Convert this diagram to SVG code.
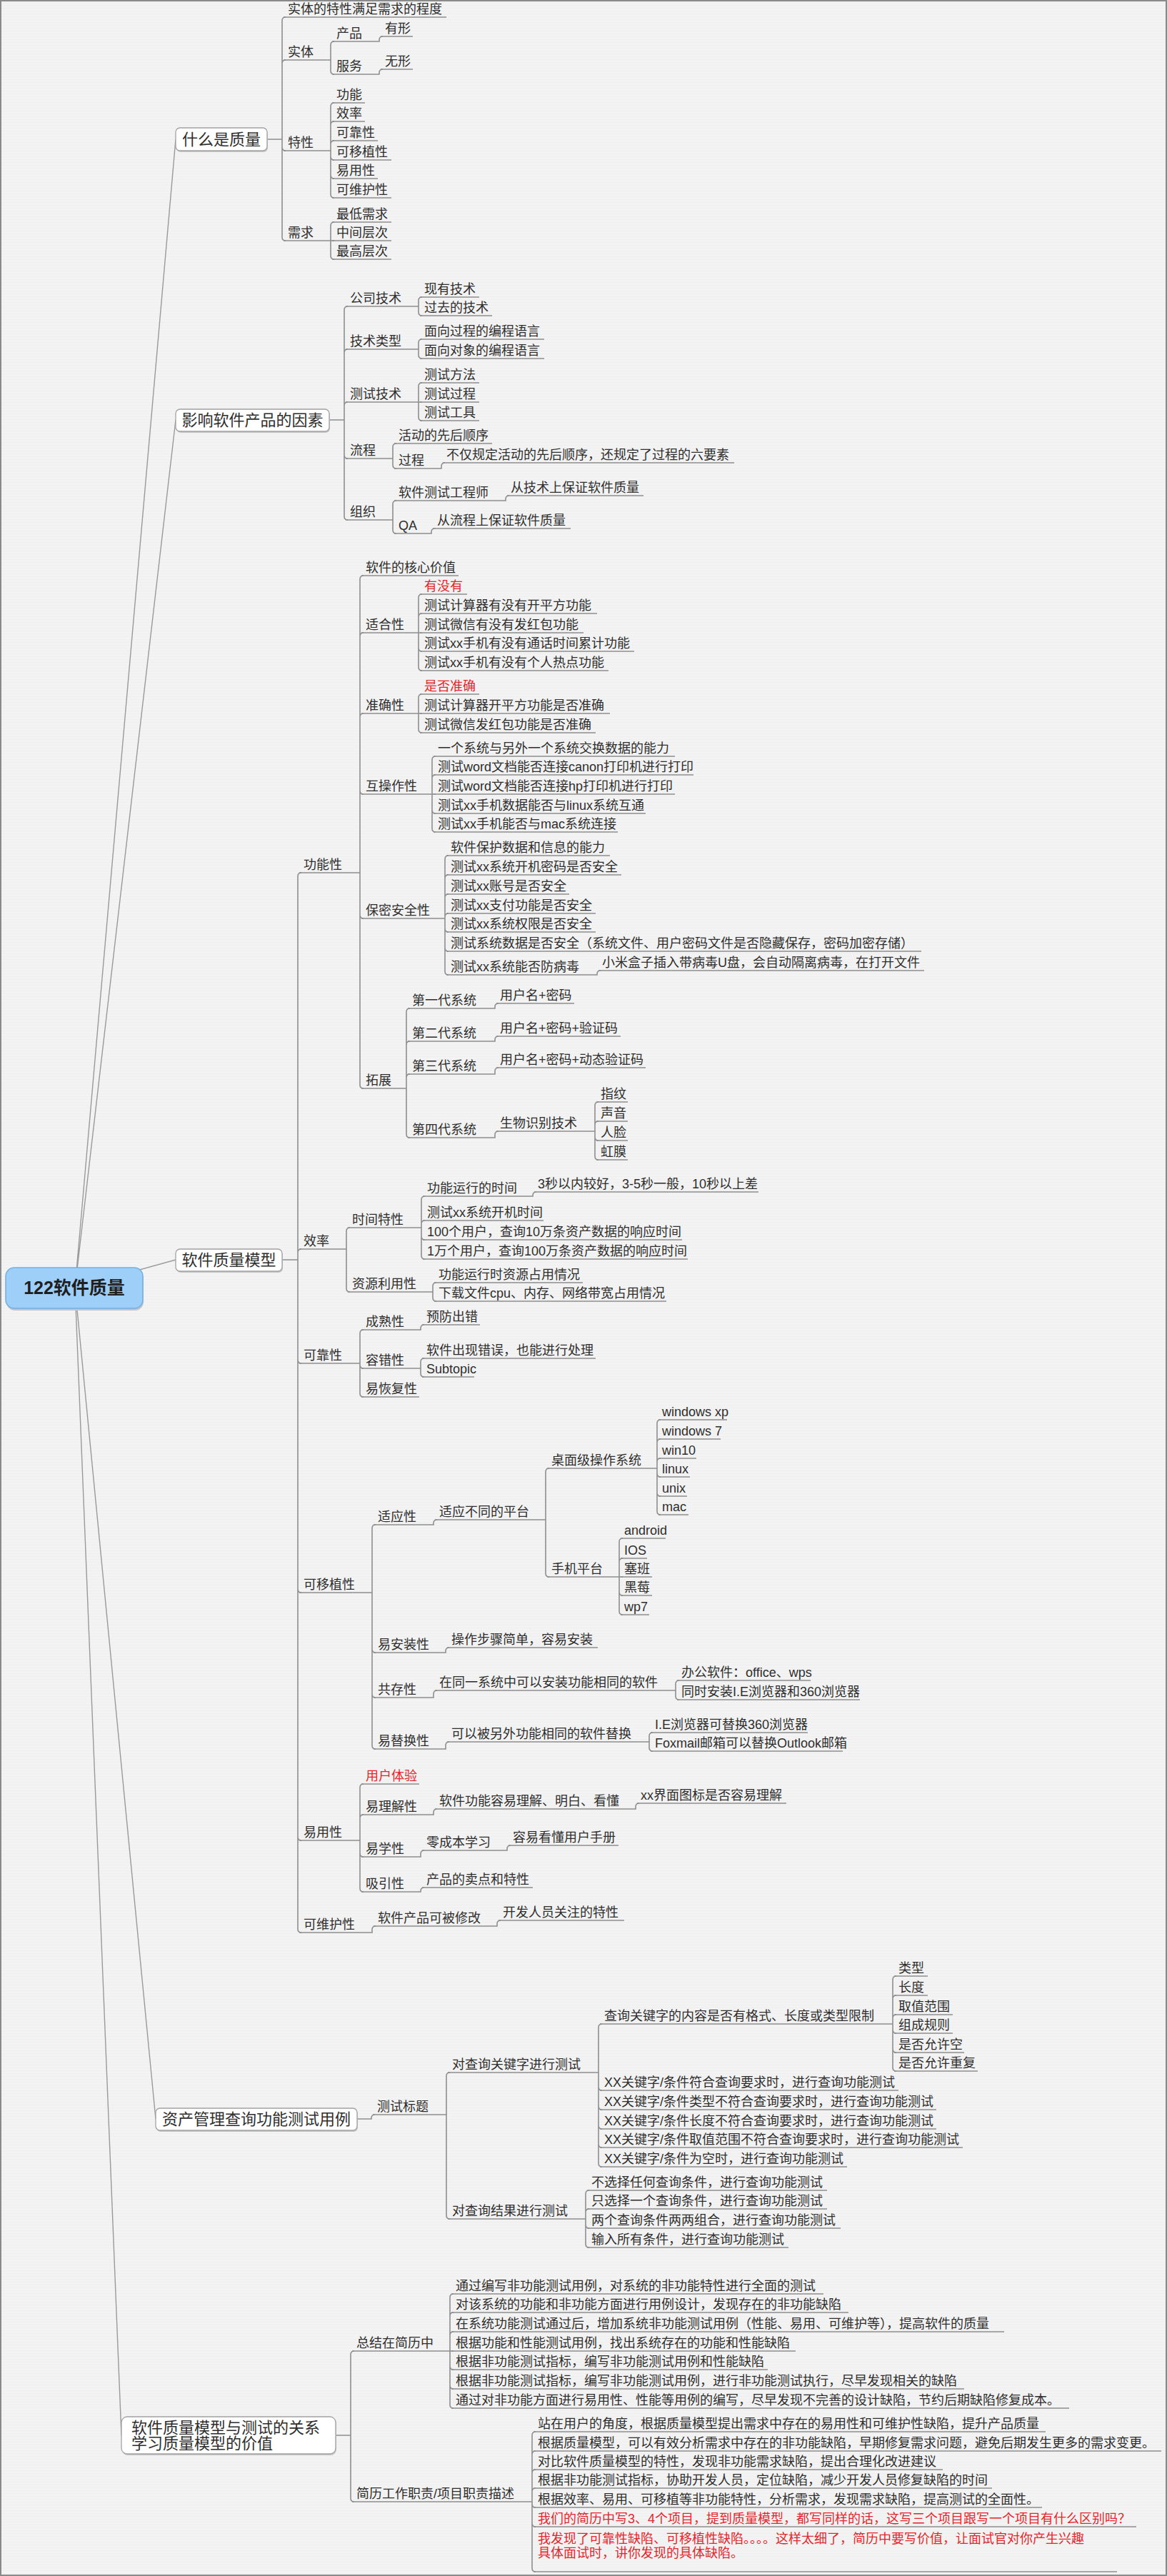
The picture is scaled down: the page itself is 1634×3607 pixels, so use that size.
<svg xmlns="http://www.w3.org/2000/svg" width="1634" height="3607" viewBox="0 0 1634 3607">
<defs>
<style>
text{font-family:"Liberation Sans","Noto Sans CJK SC",sans-serif;font-size:18px;fill:#2e2e2e}
.red{fill:#e4262c}
.l1{font-size:22px}
.root{font-size:25px;font-weight:bold;fill:#1f1f1f}
g.n path{stroke:#8e8e8e;stroke-width:1.6;fill:none}
#connectors path{stroke:#8e8e8e;stroke-width:1.6;fill:none}
#connectors .rl{stroke:#9a9a9a;stroke-width:1.4}
.box{fill:#fff;stroke:#a3a3a3;stroke-width:1.3}
.shadow{fill:#c6c6c6}
</style>
<pattern id="bgp" width="8" height="4" patternUnits="userSpaceOnUse">
<rect width="8" height="4" fill="#f3f3f3"/>
<rect y="3" width="8" height="1" fill="#efefef"/>
</pattern>
</defs>
<rect width="1634" height="3607" fill="url(#bgp)"/>
<rect x="1" y="1" width="1632" height="3605" fill="none" stroke="#8a8a8a" stroke-width="2"/>

<g id="connectors">
<path class="rl" d="M105,1803L246,195M105,1803L246,588M105,1803L246,1764M105,1803L218,2967M105,1803L170,3410"/>
<path d="M374,195H395M395,195V29Q395,24 400,24M395,195V89Q395,84 400,84M395,195V206Q395,211 400,211M395,195V332Q395,337 400,337"/>
<path d="M461,84H463M463,84V63Q463,58 468,58M463,84V99Q463,104 468,104"/>
<path d="M529,58H531V56Q531,51 536,51"/>
<path d="M529,104H531V102Q531,97 536,97"/>
<path d="M461,211H463M463,211V149Q463,144 468,144M463,211V175Q463,170 468,170M463,211V202Q463,197 468,197M463,211V219Q463,224 468,224M463,211V245Q463,250 468,250M463,211V272Q463,277 468,277"/>
<path d="M461,337H468M463,337V316Q463,311 468,311M463,337V358Q463,363 468,363"/>
<path d="M461,588H482M482,588V434Q482,429 487,429M482,588V494Q482,489 487,489M482,588V568Q482,563 487,563M482,588V637Q482,642 487,642M482,588V723Q482,728 487,728"/>
<path d="M584,429H586M586,429V421Q586,416 591,416M586,429V437Q586,442 591,442"/>
<path d="M584,489H586M586,489V480Q586,475 591,475M586,489V497Q586,502 591,502"/>
<path d="M584,563H591M586,563V541Q586,536 591,536M586,563V584Q586,589 591,589"/>
<path d="M548,642H550M550,642V626Q550,621 555,621M550,642V651Q550,656 555,656"/>
<path d="M616,656H618V653Q618,648 623,648"/>
<path d="M548,728H550M550,728V706Q550,701 555,701M550,728V742Q550,747 555,747"/>
<path d="M706,701H708V699Q708,694 713,694"/>
<path d="M602,747H604V745Q604,740 609,740"/>
<path d="M395,1764H417M417,1764V1227Q417,1222 422,1222M417,1764V1754Q417,1749 422,1749M417,1764V1904Q417,1909 422,1909M417,1764V2225Q417,2230 422,2230M417,1764V2572Q417,2577 422,2577M417,1764V2701Q417,2706 422,2706"/>
<path d="M502,1222H504M504,1222V811Q504,806 509,806M504,1222V891Q504,886 509,886M504,1222V1004Q504,999 509,999M504,1222V1107Q504,1112 509,1112M504,1222V1281Q504,1286 509,1286M504,1222V1519Q504,1524 509,1524"/>
<path d="M584,886H591M586,886V837Q586,832 591,832M586,886V864Q586,859 591,859M586,886V907Q586,912 591,912M586,886V934Q586,939 591,939"/>
<path d="M584,999H591M586,999V977Q586,972 591,972M586,999V1021Q586,1026 591,1026"/>
<path d="M602,1112H610M605,1112V1064Q605,1059 610,1059M605,1112V1090Q605,1085 610,1085M605,1112V1134Q605,1139 610,1139M605,1112V1160Q605,1165 610,1165"/>
<path d="M621,1286H623M623,1286V1203Q623,1198 628,1198M623,1286V1230Q623,1225 628,1225M623,1286V1257Q623,1252 628,1252M623,1286V1284Q623,1279 628,1279M623,1286V1300Q623,1305 628,1305M623,1286V1327Q623,1332 628,1332M623,1286V1360Q623,1365 628,1365"/>
<path d="M834,1365H836V1364Q836,1359 841,1359"/>
<path d="M566,1524H569M569,1524V1417Q569,1412 574,1412M569,1524V1463Q569,1458 574,1458M569,1524V1509Q569,1504 574,1504M569,1524V1588Q569,1593 574,1593"/>
<path d="M691,1412H693V1410Q693,1405 698,1405"/>
<path d="M691,1458H693V1456Q693,1451 698,1451"/>
<path d="M691,1504H693V1500Q693,1495 698,1495"/>
<path d="M691,1593H693V1589Q693,1584 698,1584"/>
<path d="M831,1584H833M833,1584V1548Q833,1543 838,1543M833,1584V1575Q833,1570 838,1570M833,1584V1592Q833,1597 838,1597M833,1584V1619Q833,1624 838,1624"/>
<path d="M483,1749H485M485,1749V1724Q485,1719 490,1719M485,1749V1804Q485,1809 490,1809"/>
<path d="M589,1719H590M590,1719V1680Q590,1675 595,1675M590,1719V1714Q590,1709 595,1709M590,1719V1731Q590,1736 595,1736M590,1719V1758Q590,1763 595,1763"/>
<path d="M744,1675H746V1674Q746,1669 751,1669"/>
<path d="M604,1809H606M606,1809V1801Q606,1796 611,1796M606,1809V1817Q606,1822 611,1822"/>
<path d="M502,1909H504M504,1909V1867Q504,1862 509,1862M504,1909V1911Q504,1916 509,1916M504,1909V1951Q504,1956 509,1956"/>
<path d="M587,1862H589V1860Q589,1855 594,1855"/>
<path d="M587,1916H589M589,1916V1907Q589,1902 594,1902M589,1916V1923Q589,1928 594,1928"/>
<path d="M520,2230H521M521,2230V2140Q521,2135 526,2135M521,2230V2309Q521,2314 526,2314M521,2230V2372Q521,2377 526,2377M521,2230V2444Q521,2449 526,2449"/>
<path d="M605,2135H607V2133Q607,2128 612,2128"/>
<path d="M762,2128H764M764,2128V2061Q764,2056 769,2056M764,2128V2203Q764,2208 769,2208"/>
<path d="M918,2056H920M920,2056V1993Q920,1988 925,1988M920,2056V2020Q920,2015 925,2015M920,2056V2047Q920,2042 925,2042M920,2056V2063Q920,2068 925,2068M920,2056V2090Q920,2095 925,2095M920,2056V2116Q920,2121 925,2121"/>
<path d="M865,2208H872M867,2208V2159Q867,2154 872,2154M867,2208V2187Q867,2182 872,2182M867,2208V2229Q867,2234 872,2234M867,2208V2256Q867,2261 872,2261"/>
<path d="M622,2314H624V2312Q624,2307 629,2307"/>
<path d="M605,2377H607V2372Q607,2367 612,2367"/>
<path d="M945,2367H946M946,2367V2358Q946,2353 951,2353M946,2367V2375Q946,2380 951,2380"/>
<path d="M622,2449H624V2444Q624,2439 629,2439"/>
<path d="M907,2439H909M909,2439V2431Q909,2426 914,2426M909,2439V2447Q909,2452 914,2452"/>
<path d="M502,2577H504M504,2577V2503Q504,2498 509,2498M504,2577V2546Q504,2541 509,2541M504,2577V2595Q504,2600 509,2600M504,2577V2644Q504,2649 509,2649"/>
<path d="M605,2541H607V2538Q607,2533 612,2533"/>
<path d="M888,2533H890V2530Q890,2525 895,2525"/>
<path d="M587,2600H589V2596Q589,2591 594,2591"/>
<path d="M708,2591H710V2589Q710,2584 715,2584"/>
<path d="M587,2649H589V2648Q589,2643 594,2643"/>
<path d="M520,2706H521V2702Q521,2697 526,2697"/>
<path d="M694,2697H696V2694Q696,2689 701,2689"/>
<path d="M500,2967H520V2966Q520,2961 525,2961"/>
<path d="M622,2961H625M625,2961V2907Q625,2902 630,2902M625,2961V3102Q625,3107 630,3107"/>
<path d="M836,2902H838M838,2902V2839Q838,2834 843,2834M838,2902V2922Q838,2927 843,2927M838,2902V2949Q838,2954 843,2954M838,2902V2976Q838,2981 843,2981M838,2902V3002Q838,3007 843,3007M838,2902V3029Q838,3034 843,3034"/>
<path d="M1248,2834H1250M1250,2834V2772Q1250,2767 1255,2767M1250,2834V2799Q1250,2794 1255,2794M1250,2834V2826Q1250,2821 1255,2821M1250,2834V2842Q1250,2847 1255,2847M1250,2834V2869Q1250,2874 1255,2874M1250,2834V2895Q1250,2900 1255,2900"/>
<path d="M819,3107H820M820,3107V3072Q820,3067 825,3067M820,3107V3098Q820,3093 825,3093M820,3107V3115Q820,3120 825,3120M820,3107V3142Q820,3147 825,3147"/>
<path d="M470,3410H491M491,3410V3297Q491,3292 496,3292M491,3410V3498Q491,3503 496,3503"/>
<path d="M628,3292H635M630,3292V3217Q630,3212 635,3212M630,3292V3243Q630,3238 635,3238M630,3292V3270Q630,3265 635,3265M630,3292V3313Q630,3318 635,3318M630,3292V3340Q630,3345 635,3345M630,3292V3367Q630,3372 635,3372"/>
<path d="M743,3503H745M745,3503V3410Q745,3405 750,3405M745,3503V3437Q745,3432 750,3432M745,3503V3463Q745,3458 750,3458M745,3503V3489Q745,3484 750,3484M745,3503V3506Q745,3511 750,3511M745,3503V3533Q745,3538 750,3538M745,3503V3596Q745,3601 750,3601"/>
</g>

<g id="nodes">
<g id="root"><rect class="shadow" x="9" y="1778" width="192" height="57" rx="12"/><rect x="8" y="1775" width="192" height="57" rx="12" fill="#9dcff9" stroke="#72aee3" stroke-width="1.5"/><text class="root" x="104" y="1812" text-anchor="middle">122软件质量</text></g>

<g id="n_q"><rect class="shadow" x="247" y="181" width="128" height="32" rx="6"/><rect class="box" x="246" y="179" width="128" height="32" rx="6"/><text class="l1" x="310" y="203" text-anchor="middle">什么是质量</text></g>
<g class="n" id="n_q1"><text x="403" y="19">实体的特性满足需求的程度</text><path d="M397 24H625"/></g>
<g class="n" id="n_q2"><text x="403" y="79">实体</text><path d="M397 84H461"/></g>
<g class="n" id="n_q2a"><text x="471" y="53">产品</text><path d="M465 58H529"/></g>
<g class="n" id="n_q2a1"><text x="539" y="46">有形</text><path d="M533 51H578"/></g>
<g class="n" id="n_q2b"><text x="471" y="99">服务</text><path d="M465 104H529"/></g>
<g class="n" id="n_q2b1"><text x="539" y="92">无形</text><path d="M533 97H578"/></g>
<g class="n" id="n_q3"><text x="403" y="206">特性</text><path d="M397 211H461"/></g>
<g class="n" id="n_q3a"><text x="471" y="139">功能</text><path d="M465 144H511"/></g>
<g class="n" id="n_q3b"><text x="471" y="165">效率</text><path d="M465 170H511"/></g>
<g class="n" id="n_q3c"><text x="471" y="192">可靠性</text><path d="M465 197H529"/></g>
<g class="n" id="n_q3d"><text x="471" y="219">可移植性</text><path d="M465 224H548"/></g>
<g class="n" id="n_q3e"><text x="471" y="245">易用性</text><path d="M465 250H529"/></g>
<g class="n" id="n_q3f"><text x="471" y="272">可维护性</text><path d="M465 277H548"/></g>
<g class="n" id="n_q4"><text x="403" y="332">需求</text><path d="M397 337H461"/></g>
<g class="n" id="n_q4a"><text x="471" y="306">最低需求</text><path d="M465 311H548"/></g>
<g class="n" id="n_q4b"><text x="471" y="332">中间层次</text><path d="M465 337H548"/></g>
<g class="n" id="n_q4c"><text x="471" y="358">最高层次</text><path d="M465 363H548"/></g>

<g id="n_f"><rect class="shadow" x="247" y="575" width="215" height="31" rx="6"/><rect class="box" x="246" y="573" width="215" height="31" rx="6"/><text class="l1" x="353.5" y="596" text-anchor="middle">影响软件产品的因素</text></g>
<g class="n" id="n_f1"><text x="490" y="424">公司技术</text><path d="M484 429H584"/></g>
<g class="n" id="n_f1a"><text x="594" y="411">现有技术</text><path d="M588 416H671"/></g>
<g class="n" id="n_f1b"><text x="594" y="437">过去的技术</text><path d="M588 442H689"/></g>
<g class="n" id="n_f2"><text x="490" y="484">技术类型</text><path d="M484 489H584"/></g>
<g class="n" id="n_f2a"><text x="594" y="470">面向过程的编程语言</text><path d="M588 475H762"/></g>
<g class="n" id="n_f2b"><text x="594" y="497">面向对象的编程语言</text><path d="M588 502H762"/></g>
<g class="n" id="n_f3"><text x="490" y="558">测试技术</text><path d="M484 563H584"/></g>
<g class="n" id="n_f3a"><text x="594" y="531">测试方法</text><path d="M588 536H671"/></g>
<g class="n" id="n_f3b"><text x="594" y="558">测试过程</text><path d="M588 563H671"/></g>
<g class="n" id="n_f3c"><text x="594" y="584">测试工具</text><path d="M588 589H671"/></g>
<g class="n" id="n_f4"><text x="490" y="637">流程</text><path d="M484 642H548"/></g>
<g class="n" id="n_f4a"><text x="558" y="616">活动的先后顺序</text><path d="M552 621H689"/></g>
<g class="n" id="n_f4b"><text x="558" y="651">过程</text><path d="M552 656H616"/></g>
<g class="n" id="n_f4b1"><text x="625" y="643">不仅规定活动的先后顺序，还规定了过程的六要素</text><path d="M620 648H1028"/></g>
<g class="n" id="n_f5"><text x="490" y="723">组织</text><path d="M484 728H548"/></g>
<g class="n" id="n_f5a"><text x="558" y="696">软件测试工程师</text><path d="M552 701H706"/></g>
<g class="n" id="n_f5a1"><text x="715" y="689">从技术上保证软件质量</text><path d="M710 694H901"/></g>
<g class="n" id="n_f5b"><text x="558" y="742">QA</text><path d="M552 747H602"/></g>
<g class="n" id="n_f5b1"><text x="612" y="735">从流程上保证软件质量</text><path d="M606 740H799"/></g>

<g id="n_m"><rect class="shadow" x="247" y="1751" width="149" height="31" rx="6"/><rect class="box" x="246" y="1749" width="149" height="31" rx="6"/><text class="l1" x="320.5" y="1772" text-anchor="middle">软件质量模型</text></g>
<g class="n" id="n_m1"><text x="425" y="1217">功能性</text><path d="M419 1222H502"/></g>
<g class="n" id="n_m1a"><text x="512" y="801">软件的核心价值</text><path d="M506 806H642"/></g>
<g class="n" id="n_m1b"><text x="512" y="881">适合性</text><path d="M506 886H584"/></g>
<g class="n" id="n_m1b1"><text class="red" x="594" y="827">有没有</text><path d="M588 832H654"/></g>
<g class="n" id="n_m1b2"><text x="594" y="854">测试计算器有没有开平方功能</text><path d="M588 859H836"/></g>
<g class="n" id="n_m1b3"><text x="594" y="881">测试微信有没有发红包功能</text><path d="M588 886H817"/></g>
<g class="n" id="n_m1b4"><text x="594" y="907">测试xx手机有没有通话时间累计功能</text><path d="M588 912H888"/></g>
<g class="n" id="n_m1b5"><text x="594" y="934">测试xx手机有没有个人热点功能</text><path d="M588 939H852"/></g>
<g class="n" id="n_m1c"><text x="512" y="994">准确性</text><path d="M506 999H584"/></g>
<g class="n" id="n_m1c1"><text class="red" x="594" y="967">是否准确</text><path d="M588 972H671"/></g>
<g class="n" id="n_m1c2"><text x="594" y="994">测试计算器开平方功能是否准确</text><path d="M588 999H854"/></g>
<g class="n" id="n_m1c3"><text x="594" y="1021">测试微信发红包功能是否准确</text><path d="M588 1026H834"/></g>
<g class="n" id="n_m1d"><text x="512" y="1107">互操作性</text><path d="M506 1112H602"/></g>
<g class="n" id="n_m1d1"><text x="613" y="1054">一个系统与另外一个系统交换数据的能力</text><path d="M607 1059H945"/></g>
<g class="n" id="n_m1d2"><text x="613" y="1080">测试word文档能否连接canon打印机进行打印</text><path d="M607 1085H971"/></g>
<g class="n" id="n_m1d3"><text x="613" y="1107">测试word文档能否连接hp打印机进行打印</text><path d="M607 1112H945"/></g>
<g class="n" id="n_m1d4"><text x="613" y="1134">测试xx手机数据能否与linux系统互通</text><path d="M607 1139H904"/></g>
<g class="n" id="n_m1d5"><text x="613" y="1160">测试xx手机能否与mac系统连接</text><path d="M607 1165H865"/></g>
<g class="n" id="n_m1e"><text x="512" y="1281">保密安全性</text><path d="M506 1286H621"/></g>
<g class="n" id="n_m1e1"><text x="631" y="1193">软件保护数据和信息的能力</text><path d="M625 1198H854"/></g>
<g class="n" id="n_m1e2"><text x="631" y="1220">测试xx系统开机密码是否安全</text><path d="M625 1225H870"/></g>
<g class="n" id="n_m1e3"><text x="631" y="1247">测试xx账号是否安全</text><path d="M625 1252H797"/></g>
<g class="n" id="n_m1e4"><text x="631" y="1274">测试xx支付功能是否安全</text><path d="M625 1279H834"/></g>
<g class="n" id="n_m1e5"><text x="631" y="1300">测试xx系统权限是否安全</text><path d="M625 1305H834"/></g>
<g class="n" id="n_m1e6"><text x="631" y="1327">测试系统数据是否安全（系统文件、用户密码文件是否隐藏保存，密码加密存储）</text><path d="M625 1332H1290"/></g>
<g class="n" id="n_m1e7"><text x="631" y="1360">测试xx系统能否防病毒</text><path d="M625 1365H834"/></g>
<g class="n" id="n_m1e7a"><text x="843" y="1354">小米盒子插入带病毒U盘，会自动隔离病毒，在打开文件</text><path d="M838 1359H1294"/></g>
<g class="n" id="n_m1f"><text x="512" y="1519">拓展</text><path d="M506 1524H566"/></g>
<g class="n" id="n_m1f1"><text x="577" y="1407">第一代系统</text><path d="M571 1412H691"/></g>
<g class="n" id="n_m1f1a"><text x="700" y="1400">用户名+密码</text><path d="M695 1405H804"/></g>
<g class="n" id="n_m1f2"><text x="577" y="1453">第二代系统</text><path d="M571 1458H691"/></g>
<g class="n" id="n_m1f2a"><text x="700" y="1446">用户名+密码+验证码</text><path d="M695 1451H869"/></g>
<g class="n" id="n_m1f3"><text x="577" y="1499">第三代系统</text><path d="M571 1504H691"/></g>
<g class="n" id="n_m1f3a"><text x="700" y="1490">用户名+密码+动态验证码</text><path d="M695 1495H904"/></g>
<g class="n" id="n_m1f4"><text x="577" y="1588">第四代系统</text><path d="M571 1593H691"/></g>
<g class="n" id="n_m1f4a"><text x="700" y="1579">生物识别技术</text><path d="M695 1584H831"/></g>
<g class="n" id="n_m1f4a1"><text x="841" y="1538">指纹</text><path d="M835 1543H879"/></g>
<g class="n" id="n_m1f4a2"><text x="841" y="1565">声音</text><path d="M835 1570H879"/></g>
<g class="n" id="n_m1f4a3"><text x="841" y="1592">人脸</text><path d="M835 1597H879"/></g>
<g class="n" id="n_m1f4a4"><text x="841" y="1619">虹膜</text><path d="M835 1624H879"/></g>
<g class="n" id="n_m2"><text x="425" y="1744">效率</text><path d="M419 1749H483"/></g>
<g class="n" id="n_m2a"><text x="493" y="1714">时间特性</text><path d="M487 1719H589"/></g>
<g class="n" id="n_m2a1"><text x="598" y="1670">功能运行的时间</text><path d="M592 1675H744"/></g>
<g class="n" id="n_m2a1a"><text x="753" y="1664">3秒以内较好，3-5秒一般，10秒以上差</text><path d="M748 1669H1062"/></g>
<g class="n" id="n_m2a2"><text x="598" y="1704">测试xx系统开机时间</text><path d="M592 1709H761"/></g>
<g class="n" id="n_m2a3"><text x="598" y="1731">100个用户，查询10万条资产数据的响应时间</text><path d="M592 1736H955"/></g>
<g class="n" id="n_m2a4"><text x="598" y="1758">1万个用户，查询100万条资产数据的响应时间</text><path d="M592 1763H963"/></g>
<g class="n" id="n_m2b"><text x="493" y="1804">资源利用性</text><path d="M487 1809H604"/></g>
<g class="n" id="n_m2b1"><text x="614" y="1791">功能运行时资源占用情况</text><path d="M608 1796H816"/></g>
<g class="n" id="n_m2b2"><text x="614" y="1817">下载文件cpu、内存、网络带宽占用情况</text><path d="M608 1822H933"/></g>
<g class="n" id="n_m3"><text x="425" y="1904">可靠性</text><path d="M419 1909H502"/></g>
<g class="n" id="n_m3a"><text x="512" y="1857">成熟性</text><path d="M506 1862H587"/></g>
<g class="n" id="n_m3a1"><text x="597" y="1850">预防出错</text><path d="M591 1855H672"/></g>
<g class="n" id="n_m3b"><text x="512" y="1911">容错性</text><path d="M506 1916H587"/></g>
<g class="n" id="n_m3b1"><text x="597" y="1897">软件出现错误，也能进行处理</text><path d="M591 1902H834"/></g>
<g class="n" id="n_m3b2"><text x="597" y="1923">Subtopic</text><path d="M591 1928H664"/></g>
<g class="n" id="n_m3c"><text x="512" y="1951">易恢复性</text><path d="M506 1956H587"/></g>
<g class="n" id="n_m4"><text x="425" y="2225">可移植性</text><path d="M419 2230H520"/></g>
<g class="n" id="n_m4a"><text x="529" y="2130">适应性</text><path d="M523 2135H605"/></g>
<g class="n" id="n_m4a1"><text x="615" y="2123">适应不同的平台</text><path d="M609 2128H762"/></g>
<g class="n" id="n_m4a1a"><text x="772" y="2051">桌面级操作系统</text><path d="M766 2056H918"/></g>
<g class="n" id="n_w1"><text x="927" y="1983">windows xp</text><path d="M922 1988H1018"/></g>
<g class="n" id="n_w2"><text x="927" y="2010">windows 7</text><path d="M922 2015H1009"/></g>
<g class="n" id="n_w3"><text x="927" y="2037">win10</text><path d="M922 2042H975"/></g>
<g class="n" id="n_w4"><text x="927" y="2063">linux</text><path d="M922 2068H966"/></g>
<g class="n" id="n_w5"><text x="927" y="2090">unix</text><path d="M922 2095H962"/></g>
<g class="n" id="n_w6"><text x="927" y="2116">mac</text><path d="M922 2121H964"/></g>
<g class="n" id="n_m4a1b"><text x="772" y="2203">手机平台</text><path d="M766 2208H865"/></g>
<g class="n" id="n_p1"><text x="874" y="2149">android</text><path d="M869 2154H932"/></g>
<g class="n" id="n_p2"><text x="874" y="2177">IOS</text><path d="M869 2182H906"/></g>
<g class="n" id="n_p3"><text x="874" y="2203">塞班</text><path d="M869 2208H913"/></g>
<g class="n" id="n_p4"><text x="874" y="2229">黑莓</text><path d="M869 2234H913"/></g>
<g class="n" id="n_p5"><text x="874" y="2256">wp7</text><path d="M869 2261H909"/></g>
<g class="n" id="n_m4b"><text x="529" y="2309">易安装性</text><path d="M523 2314H622"/></g>
<g class="n" id="n_m4b1"><text x="632" y="2302">操作步骤简单，容易安装</text><path d="M626 2307H837"/></g>
<g class="n" id="n_m4c"><text x="529" y="2372">共存性</text><path d="M523 2377H605"/></g>
<g class="n" id="n_m4c1"><text x="615" y="2362">在同一系统中可以安装功能相同的软件</text><path d="M609 2367H945"/></g>
<g class="n" id="n_m4c1a"><text x="954" y="2348">办公软件：office、wps</text><path d="M948 2353H1135"/></g>
<g class="n" id="n_m4c1b"><text x="954" y="2375">同时安装I.E浏览器和360浏览器</text><path d="M948 2380H1204"/></g>
<g class="n" id="n_m4d"><text x="529" y="2444">易替换性</text><path d="M523 2449H622"/></g>
<g class="n" id="n_m4d1"><text x="632" y="2434">可以被另外功能相同的软件替换</text><path d="M626 2439H907"/></g>
<g class="n" id="n_m4d1a"><text x="917" y="2421">I.E浏览器可替换360浏览器</text><path d="M911 2426H1131"/></g>
<g class="n" id="n_m4d1b"><text x="917" y="2447">Foxmail邮箱可以替换Outlook邮箱</text><path d="M911 2452H1180"/></g>
<g class="n" id="n_m5"><text x="425" y="2572">易用性</text><path d="M419 2577H502"/></g>
<g class="n" id="n_m5a"><text class="red" x="512" y="2493">用户体验</text><path d="M506 2498H587"/></g>
<g class="n" id="n_m5b"><text x="512" y="2536">易理解性</text><path d="M506 2541H605"/></g>
<g class="n" id="n_m5b1"><text x="615" y="2528">软件功能容易理解、明白、看懂</text><path d="M609 2533H888"/></g>
<g class="n" id="n_m5b1a"><text x="897" y="2520">xx界面图标是否容易理解</text><path d="M892 2525H1101"/></g>
<g class="n" id="n_m5c"><text x="512" y="2595">易学性</text><path d="M506 2600H587"/></g>
<g class="n" id="n_m5c1"><text x="597" y="2586">零成本学习</text><path d="M591 2591H708"/></g>
<g class="n" id="n_m5c1a"><text x="718" y="2579">容易看懂用户手册</text><path d="M712 2584H866"/></g>
<g class="n" id="n_m5d"><text x="512" y="2644">吸引性</text><path d="M506 2649H587"/></g>
<g class="n" id="n_m5d1"><text x="597" y="2638">产品的卖点和特性</text><path d="M591 2643H746"/></g>
<g class="n" id="n_m6"><text x="425" y="2701">可维护性</text><path d="M419 2706H520"/></g>
<g class="n" id="n_m6a"><text x="529" y="2692">软件产品可被修改</text><path d="M523 2697H694"/></g>
<g class="n" id="n_m6a1"><text x="704" y="2684">开发人员关注的特性</text><path d="M698 2689H874"/></g>

<g id="n_a"><rect class="shadow" x="219" y="2954" width="282" height="31" rx="6"/><rect class="box" x="218" y="2952" width="282" height="31" rx="6"/><text class="l1" x="359" y="2975" text-anchor="middle">资产管理查询功能测试用例</text></g>
<g class="n" id="n_a1"><text x="528" y="2956">测试标题</text><path d="M522 2961H622"/></g>
<g class="n" id="n_a1a"><text x="633" y="2897">对查询关键字进行测试</text><path d="M627 2902H836"/></g>
<g class="n" id="n_k0"><text x="846" y="2829">查询关键字的内容是否有格式、长度或类型限制</text><path d="M840 2834H1248"/></g>
<g class="n" id="n_k0a"><text x="1258" y="2762">类型</text><path d="M1252 2767H1299"/></g>
<g class="n" id="n_k0b"><text x="1258" y="2789">长度</text><path d="M1252 2794H1299"/></g>
<g class="n" id="n_k0c"><text x="1258" y="2816">取值范围</text><path d="M1252 2821H1334"/></g>
<g class="n" id="n_k0d"><text x="1258" y="2842">组成规则</text><path d="M1252 2847H1334"/></g>
<g class="n" id="n_k0e"><text x="1258" y="2869">是否允许空</text><path d="M1252 2874H1350"/></g>
<g class="n" id="n_k0f"><text x="1258" y="2895">是否允许重复</text><path d="M1252 2900H1369"/></g>
<g class="n" id="n_k1"><text x="846" y="2922">XX关键字/条件符合查询要求时，进行查询功能测试</text><path d="M840 2927H1258"/></g>
<g class="n" id="n_k2"><text x="846" y="2949">XX关键字/条件类型不符合查询要求时，进行查询功能测试</text><path d="M840 2954H1311"/></g>
<g class="n" id="n_k3"><text x="846" y="2976">XX关键字/条件长度不符合查询要求时，进行查询功能测试</text><path d="M840 2981H1311"/></g>
<g class="n" id="n_k4"><text x="846" y="3002">XX关键字/条件取值范围不符合查询要求时，进行查询功能测试</text><path d="M840 3007H1348"/></g>
<g class="n" id="n_k5"><text x="846" y="3029">XX关键字/条件为空时，进行查询功能测试</text><path d="M840 3034H1186"/></g>
<g class="n" id="n_a1b"><text x="633" y="3102">对查询结果进行测试</text><path d="M627 3107H819"/></g>
<g class="n" id="n_r1"><text x="828" y="3062">不选择任何查询条件，进行查询功能测试</text><path d="M822 3067H1158"/></g>
<g class="n" id="n_r2"><text x="828" y="3088">只选择一个查询条件，进行查询功能测试</text><path d="M822 3093H1158"/></g>
<g class="n" id="n_r3"><text x="828" y="3115">两个查询条件两两组合，进行查询功能测试</text><path d="M822 3120H1177"/></g>
<g class="n" id="n_r4"><text x="828" y="3142">输入所有条件，进行查询功能测试</text><path d="M822 3147H1104"/></g>

<g id="n_s"><rect class="shadow" x="171" y="3386" width="300" height="52" rx="8"/><rect class="box" x="170" y="3384" width="300" height="52" rx="8"/><text class="l1" x="184" y="3407">软件质量模型与测试的关系</text><text class="l1" x="184" y="3429">学习质量模型的价值</text></g>
<g class="n" id="n_s1"><text x="499" y="3287">总结在简历中</text><path d="M493 3292H628"/></g>
<g class="n" id="n_s1a"><text x="638" y="3207">通过编写非功能测试用例，对系统的非功能特性进行全面的测试</text><path d="M632 3212H1153"/></g>
<g class="n" id="n_s1b"><text x="638" y="3233">对该系统的功能和非功能方面进行用例设计，发现存在的非功能缺陷</text><path d="M632 3238H1188"/></g>
<g class="n" id="n_s1c"><text x="638" y="3260">在系统功能测试通过后，增加系统非功能测试用例（性能、易用、可维护等），提高软件的质量</text><path d="M632 3265H1406"/></g>
<g class="n" id="n_s1d"><text x="638" y="3287">根据功能和性能测试用例，找出系统存在的功能和性能缺陷</text><path d="M632 3292H1114"/></g>
<g class="n" id="n_s1e"><text x="638" y="3313">根据非功能测试指标，编写非功能测试用例和性能缺陷</text><path d="M632 3318H1075"/></g>
<g class="n" id="n_s1f"><text x="638" y="3340">根据非功能测试指标，编写非功能测试用例，进行非功能测试执行，尽早发现相关的缺陷</text><path d="M632 3345H1350"/></g>
<g class="n" id="n_s1g"><text x="638" y="3367">通过对非功能方面进行易用性、性能等用例的编写，尽早发现不完善的设计缺陷，节约后期缺陷修复成本。</text><path d="M632 3372H1497"/></g>
<g class="n" id="n_s2"><text x="499" y="3498">简历工作职责/项目职责描述</text><path d="M493 3503H743"/></g>
<g class="n" id="n_s2a"><text x="753" y="3400">站在用户的角度，根据质量模型提出需求中存在的易用性和可维护性缺陷，提升产品质量</text><path d="M747 3405H1464"/></g>
<g class="n" id="n_s2b"><text x="753" y="3427">根据质量模型，可以有效分析需求中存在的非功能缺陷，早期修复需求问题，避免后期发生更多的需求变更。</text><path d="M747 3432H1626"/></g>
<g class="n" id="n_s2c"><text x="753" y="3453">对比软件质量模型的特性，发现非功能需求缺陷，提出合理化改进建议</text><path d="M747 3458H1320"/></g>
<g class="n" id="n_s2d"><text x="753" y="3479">根据非功能测试指标，协助开发人员，定位缺陷，减少开发人员修复缺陷的时间</text><path d="M747 3484H1389"/></g>
<g class="n" id="n_s2e"><text x="753" y="3506">根据效率、易用、可移植等非功能特性，分析需求，发现需求缺陷，提高测试的全面性。</text><path d="M747 3511H1459"/></g>
<g class="n" id="n_s2f"><text class="red" x="753" y="3533">我们的简历中写3、4个项目，提到质量模型，都写同样的话，这写三个项目跟写一个项目有什么区别吗？</text><path d="M747 3538H1591"/></g>
<g class="n" id="n_s2g"><text class="red" x="753" y="3561">我发现了可靠性缺陷、可移植性缺陷。。。。这样太细了，简历中要写价值，让面试官对你产生兴趣</text><text class="red" x="753" y="3581">具体面试时，讲你发现的具体缺陷。</text><path d="M747 3601H1564"/></g>
</g>
</svg>
